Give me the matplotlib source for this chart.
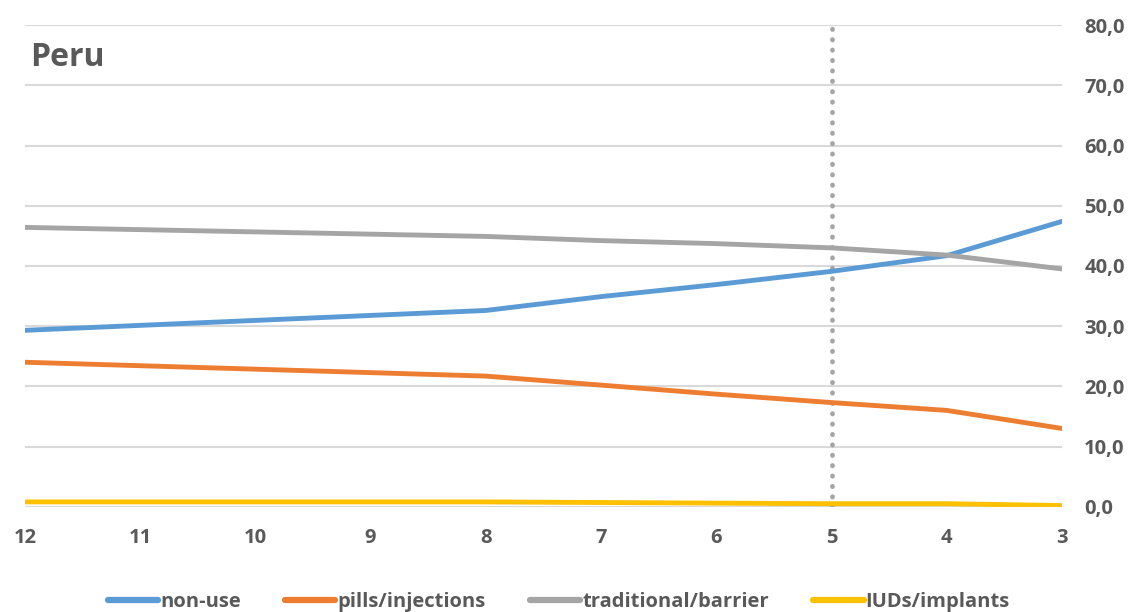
import matplotlib
matplotlib.use("Agg")
import matplotlib.pyplot as plt
from matplotlib.ticker import FuncFormatter

# =========================
# DATA
# =========================
years = [12, 8, 7, 6, 5, 4, 3]
non_use = [29.3, 32.6, 34.9, 36.9, 39.1, 41.7, 47.4]
pills_injections = [24.0, 21.7, 20.2, 18.7, 17.3, 16.0, 13.0]
traditional_barrier = [46.4, 44.9, 44.2, 43.7, 43.0, 41.8, 39.5]
iuds_implants = [0.8, 0.8, 0.7, 0.6, 0.5, 0.5, 0.2]

series_names = ["non-use", "pills/injections", "traditional/barrier", "IUDs/implants"]
series_values = [non_use, pills_injections, traditional_barrier, iuds_implants]
colors = ["#5B9BD5", "#ED7D31", "#A5A5A5", "#FFC000"]

x_ticks = list(range(12, 2, -1))
y_ticks = list(range(0, 90, 10))
marker_year = 5
title = "Peru"

TEXT = "#595959"
plt.rcParams["font.family"] = ["Open Sans", "DejaVu Sans"]

# =========================
# PLOT
# =========================
fig = plt.figure(figsize=(11.31, 6.12), dpi=100)
ax = fig.add_axes([0.022, 0.172, 0.917, 0.787])

for name, vals, c in zip(series_names, series_values, colors):
    ax.plot(years, vals, color=c, lw=3.5, label=name, solid_capstyle="round", zorder=3)

ax.axvline(marker_year, color="#A5A5A5", lw=3.4, linestyle=(0, (0.1, 2.1)),
           dash_capstyle="round", zorder=2)

ax.set_xlim(12, 3)
ax.set_ylim(0, 80)
ax.set_xticks(x_ticks)
ax.set_yticks(y_ticks)
ax.yaxis.tick_right()
ax.yaxis.set_major_formatter(FuncFormatter(lambda v, p: f"{v:.1f}".replace(".", ",")))
ax.grid(axis="y", color="#D9D9D9", lw=1.5, zorder=0)
for s in ax.spines.values():
    s.set_visible(False)
ax.tick_params(length=0, labelsize=14.5, labelcolor=TEXT)
ax.tick_params(axis="x", pad=15)
ax.tick_params(axis="y", pad=16)
for lbl in ax.get_xticklabels() + ax.get_yticklabels():
    lbl.set_fontweight("bold")

ax.text(0.005, 0.932, title, transform=ax.transAxes, fontsize=23,
        fontweight="bold", color=TEXT, va="center", ha="left")

leg = fig.legend(loc="lower center", bbox_to_anchor=(0.494, -0.03), ncol=4, frameon=False,
                 handlelength=2.5, handletextpad=0.1, columnspacing=2.2,
                 prop={"size": 14.5, "weight": "bold"}, labelcolor=TEXT)
for h in leg.legend_handles:
    h.set_linewidth(4.5)

plt.savefig("out.png", dpi=100)
